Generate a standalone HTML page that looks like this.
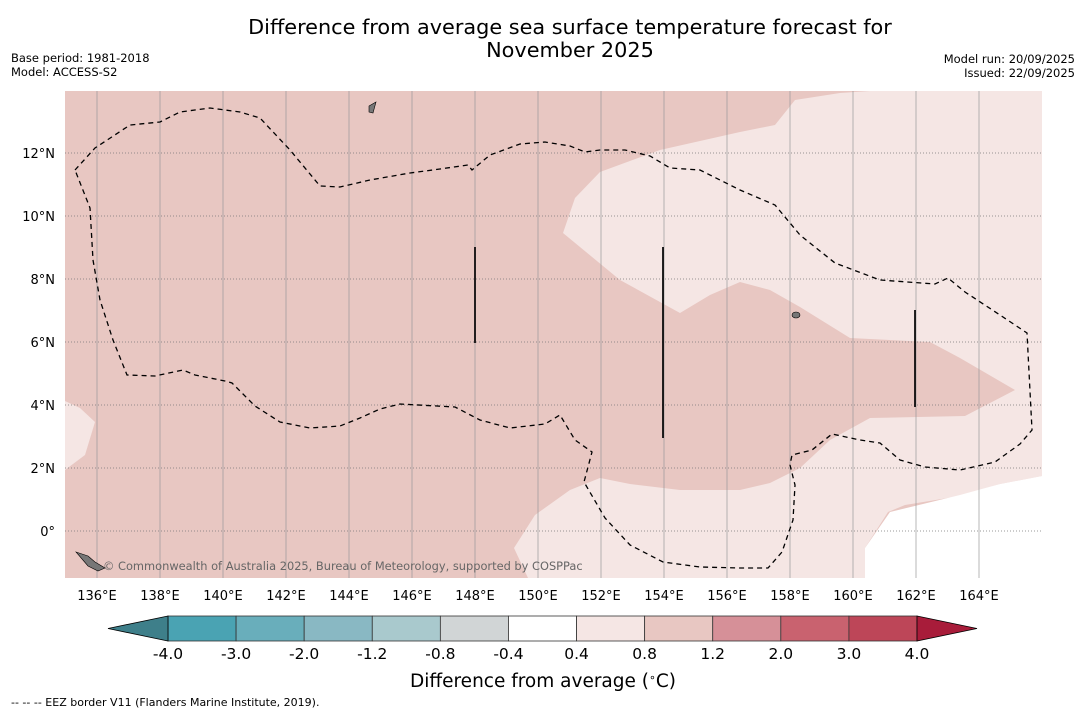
<!DOCTYPE html>
<html><head><meta charset="utf-8"><style>
body{margin:0;background:#fff;font-family:"Liberation Sans","DejaVu Sans",sans-serif}
svg text{font-family:"DejaVu Sans","Liberation Sans",sans-serif}
</style></head><body>
<svg id="c" width="1085" height="713" xmlns="http://www.w3.org/2000/svg">
<text x="570" y="34" font-size="20.8" text-anchor="middle">Difference from average sea surface temperature forecast for</text>
<text x="570" y="57" font-size="20.8" text-anchor="middle">November 2025</text>
<text x="11" y="62" font-size="11.5">Base period: 1981-2018</text>
<text x="11" y="76" font-size="11.5">Model: ACCESS-S2</text>
<text x="1075" y="63" font-size="11.5" text-anchor="end">Model run: 20/09/2025</text>
<text x="1075" y="77" font-size="11.5" text-anchor="end">Issued: 22/09/2025</text>
<defs><clipPath id="mc"><rect x="65" y="91" width="977" height="487"/></clipPath></defs>
<g clip-path="url(#mc)">
<rect x="65" y="91" width="977" height="487" fill="#e8c7c2"/>
<path fill="#f5e6e4" d="M870,91 L1042,91 L1042,476 L1000,484 L960,496 L905,505 L888,512 L865,548 L865,578 L528,578 L514,548 L535,515 L570,490 L600,478 L630,484 L680,490 L740,490 L770,483 L800,468 L830,440 L870,418 L965,416 L1015,390 L960,358 L930,342 L850,338 L800,307 L770,290 L740,282 L710,295 L680,313 L620,280 L563,233 L575,198 L600,172 L660,150 L740,132 L775,125 L795,100 L840,93 Z"/>
<path fill="#f5e6e4" d="M65,401 L80,408 L95,422 L85,455 L65,470 Z"/>
<path fill="#ffffff" d="M890,512 L960,495 L1000,484 L1042,476 L1042,578 L865,578 L865,548 Z"/>
<g id="grid"></g>
<path fill="none" stroke="#000" stroke-width="1.3" stroke-dasharray="5,4" d="M75,170 L95,148 L130,125 L160,122 L180,112 L210,108 L240,112 L260,118 L290,150 L320,186 L340,187 L370,180 L410,173 L440,169 L468,165 L472,170 L490,155 L520,144 L545,142 L570,146 L585,152 L600,150 L625,150 L650,156 L670,168 L700,170 L740,190 L775,205 L800,235 L835,263 L880,280 L935,284 L948,278 L965,292 L1000,315 L1027,333 L1032,430 L1020,444 L995,462 L960,470 L925,467 L900,460 L880,443 L860,440 L832,434 L812,450 L792,455 L790,465 L795,485 L793,520 L782,552 L768,568 L740,568 L700,567 L663,562 L630,545 L605,518 L584,482 L592,452 L575,440 L560,415 L545,424 L510,428 L480,420 L455,407 L400,404 L380,409 L360,418 L340,426 L310,428 L280,422 L255,406 L232,383 L225,381 L195,375 L183,370 L155,376 L127,375 L113,340 L100,300 L93,260 L90,208 Z"/>
<line x1="475" y1="247" x2="475" y2="343" stroke="#000" stroke-width="1.7"/>
<line x1="663" y1="247" x2="663" y2="438" stroke="#000" stroke-width="1.7"/>
<line x1="915" y1="310" x2="915" y2="407" stroke="#000" stroke-width="1.7"/>
<path d="M76,552 L88,556 L95,562 L105,568 L98,571 L88,566 Z" fill="#777" stroke="#000" stroke-width="0.6"/>
<path d="M369,106 L376,102 L373,113 L369,112 Z" fill="#777" stroke="#000" stroke-width="0.6"/>
<ellipse cx="796" cy="315" rx="4" ry="3" fill="#777" stroke="#000" stroke-width="0.6"/>
<text x="103" y="570" font-size="11.4" fill="#666">© Commonwealth of Australia 2025, Bureau of Meteorology, supported by COSPPac</text>
</g>
<g id="axes"></g>
<g id="cbar"></g>
<text x="543" y="687" font-size="18.5" text-anchor="middle">Difference from average (<tspan baseline-shift="super" font-size="11">∘</tspan>C)</text>
<text x="11" y="706" font-size="11">--  --  -- EEZ border V11 (Flanders Marine Institute, 2019).</text>
</svg>
<script>
const lonTicks=[136,138,140,142,144,146,148,150,152,154,156,158,160,162,164];
const latTicks=[0,2,4,6,8,10,12];
const levels=[-4.0,-3.0,-2.0,-1.2,-0.8,-0.4,0.4,0.8,1.2,2.0,3.0,4.0];
const levelColors=["#4aa3b3","#69aebb","#89b8c3","#a9c9cd","#d1d5d6","#ffffff","#f5e6e4","#e8c7c2","#d69098","#c9626f","#bd4658"];
const underColor="#3e7f8a", overColor="#a81c3a";
const NS="http://www.w3.org/2000/svg";
const X=lon=>97+(lon-136)*31.5, Y=lat=>531-lat*31.5;
function mk(t,a,p){const e=document.createElementNS(NS,t);for(const k in a)e.setAttribute(k,a[k]);p.appendChild(e);return e;}
const grid=document.getElementById('grid'),axes=document.getElementById('axes'),cb=document.getElementById('cbar');
lonTicks.forEach(l=>{
 const g=mk('line',{x1:X(l),x2:X(l),y1:91,y2:578,stroke:'#999','stroke-width':0.7},grid);
 
 
 const t=mk('text',{x:X(l),y:600,'font-size':13,'text-anchor':'middle'},axes);t.textContent=l+'°E';
 
 
});
latTicks.forEach(l=>{
 const g=mk('line',{x1:65,x2:1042,y1:Y(l),y2:Y(l),stroke:'#777','stroke-width':0.8,'stroke-dasharray':'1,2'},grid);
 
 
 const t=mk('text',{x:55,y:Y(l)+5,'font-size':13,'text-anchor':'end'},axes);t.textContent=l===0?'0°':l+'°N';
 
 
});
const x0=168,x1=917,w=(x1-x0)/levelColors.length,y0=616,h=25;
levelColors.forEach((c,i)=>{
 const r=mk('rect',{x:x0+i*w,y:y0,width:w,height:h,fill:c,stroke:'#333','stroke-width':0.8},cb);
 
 
});
const lt=mk('path',{d:`M${x0},${y0} L108,${y0+h/2} L${x0},${y0+h} Z`,fill:underColor,stroke:'#000','stroke-width':0.8},cb);


const rt=mk('path',{d:`M${x1},${y0} L977,${y0+h/2} L${x1},${y0+h} Z`,fill:overColor,stroke:'#000','stroke-width':0.8},cb);


levels.forEach((v,i)=>{
 const t=mk('text',{x:x0+i*w,y:659,'font-size':15.5,'text-anchor':'middle'},cb);t.textContent=v.toFixed(1);
 
 
});
</script>
</body></html>
